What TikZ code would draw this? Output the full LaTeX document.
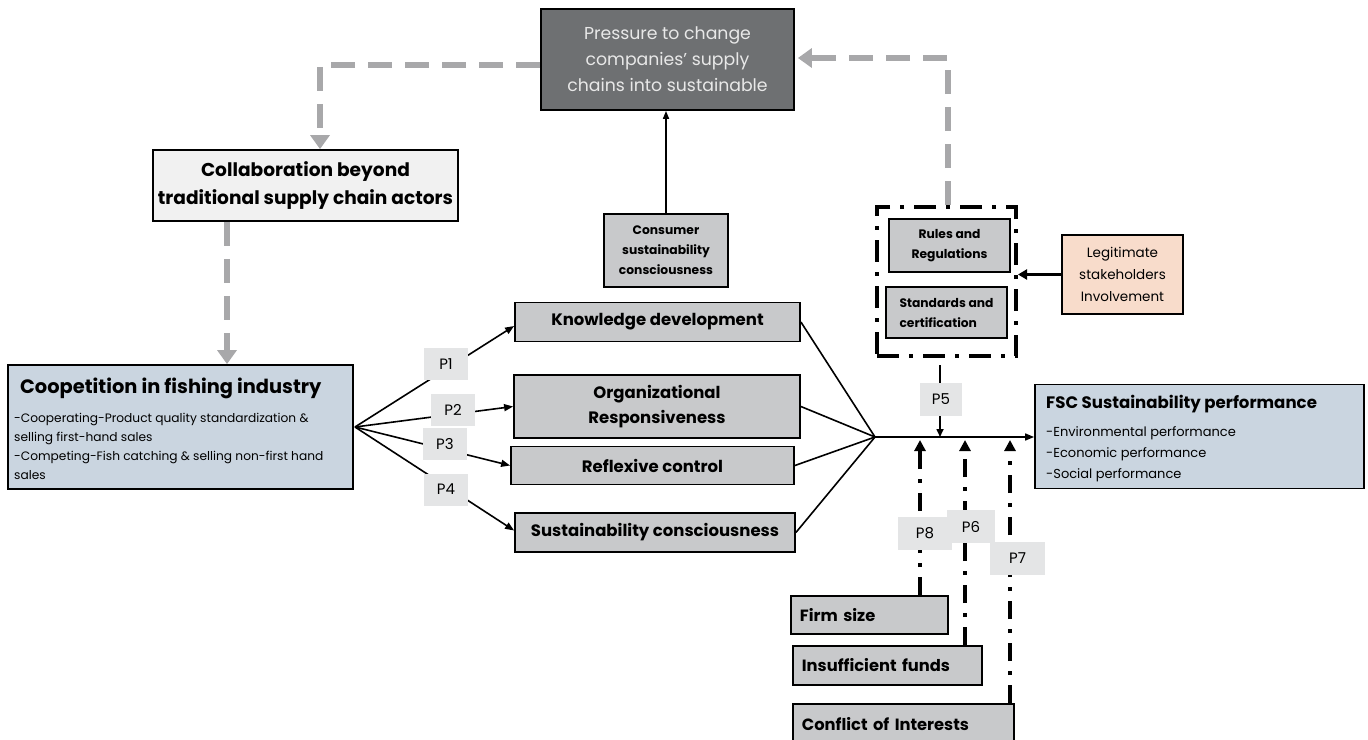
\documentclass[tikz,border=0pt]{standalone}
\usepackage{fontspec}
\setmainfont{Poppins}
\usetikzlibrary{arrows.meta}
\definecolor{pressgray}{HTML}{6E7072}
\definecolor{presstext}{HTML}{E8E8E8}
\definecolor{collabfill}{HTML}{F1F1F1}
\definecolor{boxgray}{HTML}{C8C9CB}
\definecolor{bluefill}{HTML}{CAD5E0}
\definecolor{peach}{HTML}{F8DCCB}
\definecolor{pgray}{HTML}{E4E5E6}
\definecolor{linegray}{HTML}{A8A8AA}
\begin{document}
\begin{tikzpicture}[x=1pt,y=-1pt,
  box/.style={draw=black, line width=1.8pt, inner sep=0pt, align=center},
  graybox/.style={box, fill=boxgray, font=\bfseries\fontsize{16.5}{25}\selectfont},
  leftbox/.style={box, fill=boxgray, font=\bfseries\fontsize{16.3}{20}\selectfont, align=left, inner xsep=9pt},
  plabel/.style={fill=pgray, inner sep=0pt, minimum width=44pt, minimum height=32pt, font=\fontsize{15}{16}\selectfont},
  arr/.style={line width=1.6pt, -{Triangle[length=9pt,width=7pt]}},
  plain/.style={line width=1.6pt},
  graydash/.style={draw=linegray, line width=6pt, dash pattern=on 24pt off 13pt, -{Triangle[length=14pt,width=19pt]}},
  dashdotarr/.style={line width=4pt, dash pattern=on 18pt off 10pt on 4pt off 10pt, -{Triangle[length=11pt,width=11pt]}}
]
\useasboundingbox (0,0) rectangle (1368,739);
\clip (0,0) rectangle (1368,739);

% top
\node[box, fill=pressgray, text=presstext, minimum width=253pt, minimum height=101pt,
  font=\fontsize{17.3}{26}\selectfont] (press) at (667.5,59.5)
  {Pressure to change\\companies’ supply\\chains into sustainable};
\node[box, fill=collabfill, minimum width=305pt, minimum height=71pt,
  font=\bfseries\fontsize{18.6}{28}\selectfont] (collab) at (305.5,185.5)
  {Collaboration beyond\\traditional supply chain actors};
\node[box, line width=1.4pt, fill=boxgray, minimum width=124pt, minimum height=73pt,
  font=\bfseries\fontsize{12.3}{20}\selectfont] (cons) at (666,250.5)
  {Consumer\\sustainability\\consciousness};

% left
\node[box, fill=bluefill, minimum width=345pt, minimum height=124pt] (coop) at (180.5,427) {};
\node[anchor=west, inner sep=0pt, font=\bfseries\fontsize{19.4}{22}\selectfont] (cooptitle) at (20,388)
  {Coopetition in fishing industry};
\node[anchor=north west, inner sep=0pt, align=left, font=\fontsize{12.2}{19}\selectfont] (coopbody) at (14,413)
  {-Cooperating-Product quality standardization \&\\selling first-hand sales\\-Competing-Fish catching \& selling non-first hand\\sales};

% middle boxes
\node[graybox, minimum width=285pt, minimum height=39pt] (know) at (657.5,322) {Knowledge development};
\node[graybox, minimum width=286pt, minimum height=63pt] (org) at (657,406.5) {Organizational\\Responsiveness};
\node[graybox, minimum width=283pt, minimum height=38pt] (refl) at (652.5,465.5) {Reflexive control};
\node[graybox, minimum width=280pt, minimum height=39pt] (sust) at (655,532.5) {Sustainability consciousness};

% right
\node[box, fill=bluefill, minimum width=329pt, minimum height=104pt] (fsc) at (1199.5,436.5) {};
\node[anchor=west, inner sep=0pt, font=\bfseries\fontsize{16.6}{20}\selectfont] (fsctitle) at (1046,404)
  {FSC Sustainability performance};
\node[anchor=north west, inner sep=0pt, align=left, font=\fontsize{13}{21}\selectfont] (fscbody) at (1046,426)
  {-Environmental performance\\-Economic performance\\-Social performance};

\node[draw=black, line width=4pt, dash pattern=on 22pt off 10pt on 4pt off 10pt,
  minimum width=139pt, minimum height=149pt, inner sep=0pt] (dbox) at (946.5,281.5) {};
\node[box, line width=1.4pt, fill=boxgray, minimum width=121pt, minimum height=53pt,
  font=\bfseries\fontsize{12.3}{20}\selectfont] (rules) at (949.5,245.5) {Rules and\\Regulations};
\node[box, line width=1.4pt, fill=boxgray, minimum width=121pt, minimum height=51pt, align=left,
  font=\bfseries\fontsize{12.3}{20}\selectfont] (stand) at (946.5,312.5) {Standards and\\certification\hspace*{12pt}};
\node[box, line width=1.4pt, fill=peach, minimum width=121pt, minimum height=79pt,
  font=\fontsize{13.5}{22}\selectfont] (legit) at (1122.5,274.5) {Legitimate\\stakeholders\\Involvement};

% bottom boxes
\node[leftbox, anchor=north west, minimum height=38pt, text width=139pt] (firm) at (790,595) {Firm size};
\node[leftbox, anchor=north west, minimum height=39pt, text width=171pt] (funds) at (792,645) {Insufficient funds};
\node[leftbox, anchor=north west, minimum height=40pt, text width=203pt] (confl) at (792,703) {Conflict of Interests};

% coordinates
\coordinate (fan) at (355,427);
\coordinate (conv) at (875,437);
\coordinate (gl) at (320,65);
\coordinate (gr) at (948,58);
\coordinate (gb) at (227,0);
\coordinate (x8) at (920,0);
\coordinate (x6) at (965,0);
\coordinate (x7) at (1010,0);
\coordinate (x5) at (940,0);

% gray feedback loop
\draw[graydash] (press.west |- gl) -- (gl) -- (collab.north -| gl);
\draw[graydash] (dbox.north -| gr) -- (gr) -- ([xshift=3pt]press.east |- gr);
\draw[graydash] (collab.south -| gb) -- (coop.north -| gb);

% consumer arrow
\draw[arr, -{Triangle[length=8pt,width=6pt]}] (cons.north) -- (cons.north |- press.south);

% fan
\draw[arr] (fan) -- ([yshift=-4pt]know.west);
\draw[arr] (fan) -- (org.west);
\draw[arr] (fan) -- (refl.west);
\draw[arr] (fan) -- ([yshift=2pt]sust.west);
\draw[plain] (know.east) -- (conv);
\draw[plain] (org.east) -- (conv);
\draw[plain] (refl.east) -- (conv);
\draw[plain] (sust.east) -- (conv);
\draw[arr] (conv) -- (fsc.west |- conv);

% legit arrow
\draw[line width=3pt, -{Triangle[length=9pt,width=10pt]}] (legit.west) -- (dbox.east |- legit.west);

% P5
\draw[line width=1.6pt, -{Triangle[length=8pt,width=7pt]}, shorten <=7pt] (dbox.south -| x5) -- (conv -| x5);

% moderators
\draw[dashdotarr] (firm.north -| x8) -- ([yshift=-3pt]conv -| x8);
\draw[dashdotarr] (funds.north -| x6) -- ([yshift=-3pt]conv -| x6);
\draw[dashdotarr] (confl.north -| x7) -- ([yshift=-3pt]conv -| x7);

% P labels
\node[plabel] (p1) at (446,364) {P1};
\node[plabel] (p2) at (453,410) {P2};
\node[plabel] (p3) at (445,444) {P3};
\node[plabel] (p4) at (446,489.5) {P4};
\node[plabel, minimum width=42pt, minimum height=33pt] (p5) at (941,399.5) {P5};
\node[plabel, minimum width=54pt, minimum height=33pt] (p8) at (925,533.5) {P8};
\node[plabel, minimum width=48pt, minimum height=33pt] (p6) at (971,526.5) {P6};
\node[plabel, minimum width=55pt, minimum height=33pt] (p7) at (1017.5,558.5) {P7};
\end{tikzpicture}
\end{document}
